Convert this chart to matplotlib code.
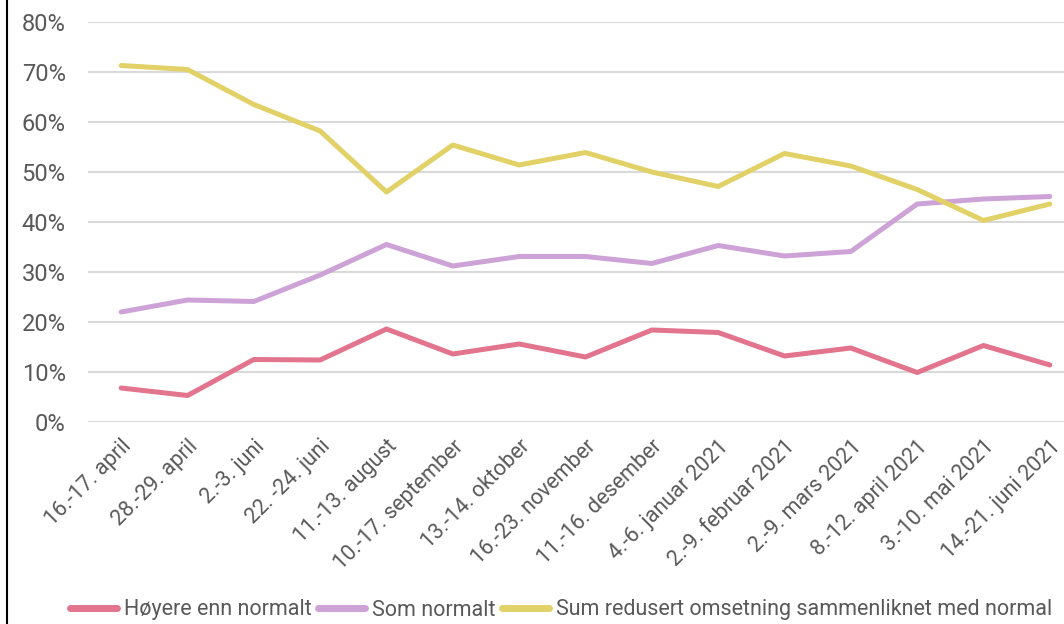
import matplotlib
matplotlib.use("Agg")
import matplotlib.pyplot as plt
from matplotlib.lines import Line2D
from matplotlib.ticker import PercentFormatter

plt.rcParams['font.family'] = ['Roboto', 'DejaVu Sans']

# Data
perioder = ['16.-17. april', '28.-29. april', '2.-3. juni', '22. -24. juni', '11.-13. august',
            '10.-17. september', '13.-14. oktober', '16.-23. november', '11.-16. desember',
            '4.-6. januar 2021', '2.-9. februar 2021', '2.-9. mars 2021', '8.-12. april 2021',
            '3.-10. mai 2021', '14.-21. juni 2021']

hoyere = [6.8, 5.3, 12.5, 12.4, 18.6, 13.6, 15.6, 13.0, 18.4, 17.9, 13.2, 14.8, 9.9, 15.3, 11.4]
som_normalt = [22.0, 24.4, 24.1, 29.4, 35.5, 31.2, 33.1, 33.1, 31.7, 35.3, 33.2, 34.1, 43.6, 44.6, 45.1]
redusert = [71.3, 70.5, 63.5, 58.2, 46.0, 55.4, 51.4, 53.9, 50.0, 47.1, 53.7, 51.2, 46.5, 40.3, 43.6]

series = [
    (hoyere, 'Høyere enn normalt', '#e2748e'),
    (som_normalt, 'Som normalt', '#cda2d6'),
    (redusert, 'Sum redusert omsetning sammenliknet med normal', '#e1d167'),
]

fig = plt.figure(figsize=(10.64, 6.24), dpi=100)
ax = fig.add_axes([88 / 1064, 202 / 624, 995 / 1064, 400 / 624])

x = range(len(perioder))
for vals, name, color in series:
    ax.plot(x, vals, color=color, linewidth=3.6, label=name, solid_capstyle='round')

ax.set_xlim(-0.5, len(perioder) - 0.5)
ax.set_ylim(0, 80)
ax.set_yticks(range(0, 81, 10))
ax.yaxis.set_major_formatter(PercentFormatter(decimals=0))
ax.grid(axis='y', color='#d9d9d9', linewidth=1.5)
ax.set_axisbelow(True)
for s in ax.spines.values():
    s.set_visible(False)
ax.tick_params(axis='y', length=0, labelsize=17, labelcolor='#595959', pad=16)
ax.set_xticks(list(x))
ax.set_xticklabels(perioder, rotation=45, ha='right', rotation_mode='anchor', fontsize=15.5)
ax.tick_params(axis='x', length=0, labelcolor='#595959', pad=10)

# left frame edge
fig.add_artist(Line2D([6.5 / 1064, 6.5 / 1064], [0, 1], color='black', linewidth=1.5))

leg = fig.legend(loc='center', bbox_to_anchor=(561 / 1064, 1 - 610 / 624), ncol=3, frameon=False,
                 fontsize=15.5, handlelength=2.2, handletextpad=0.3, columnspacing=0.3,
                 labelcolor='#595959')
for h in leg.get_lines():
    h.set_linewidth(5)
    h.set_solid_capstyle('round')

fig.savefig('out.png', dpi=100)
